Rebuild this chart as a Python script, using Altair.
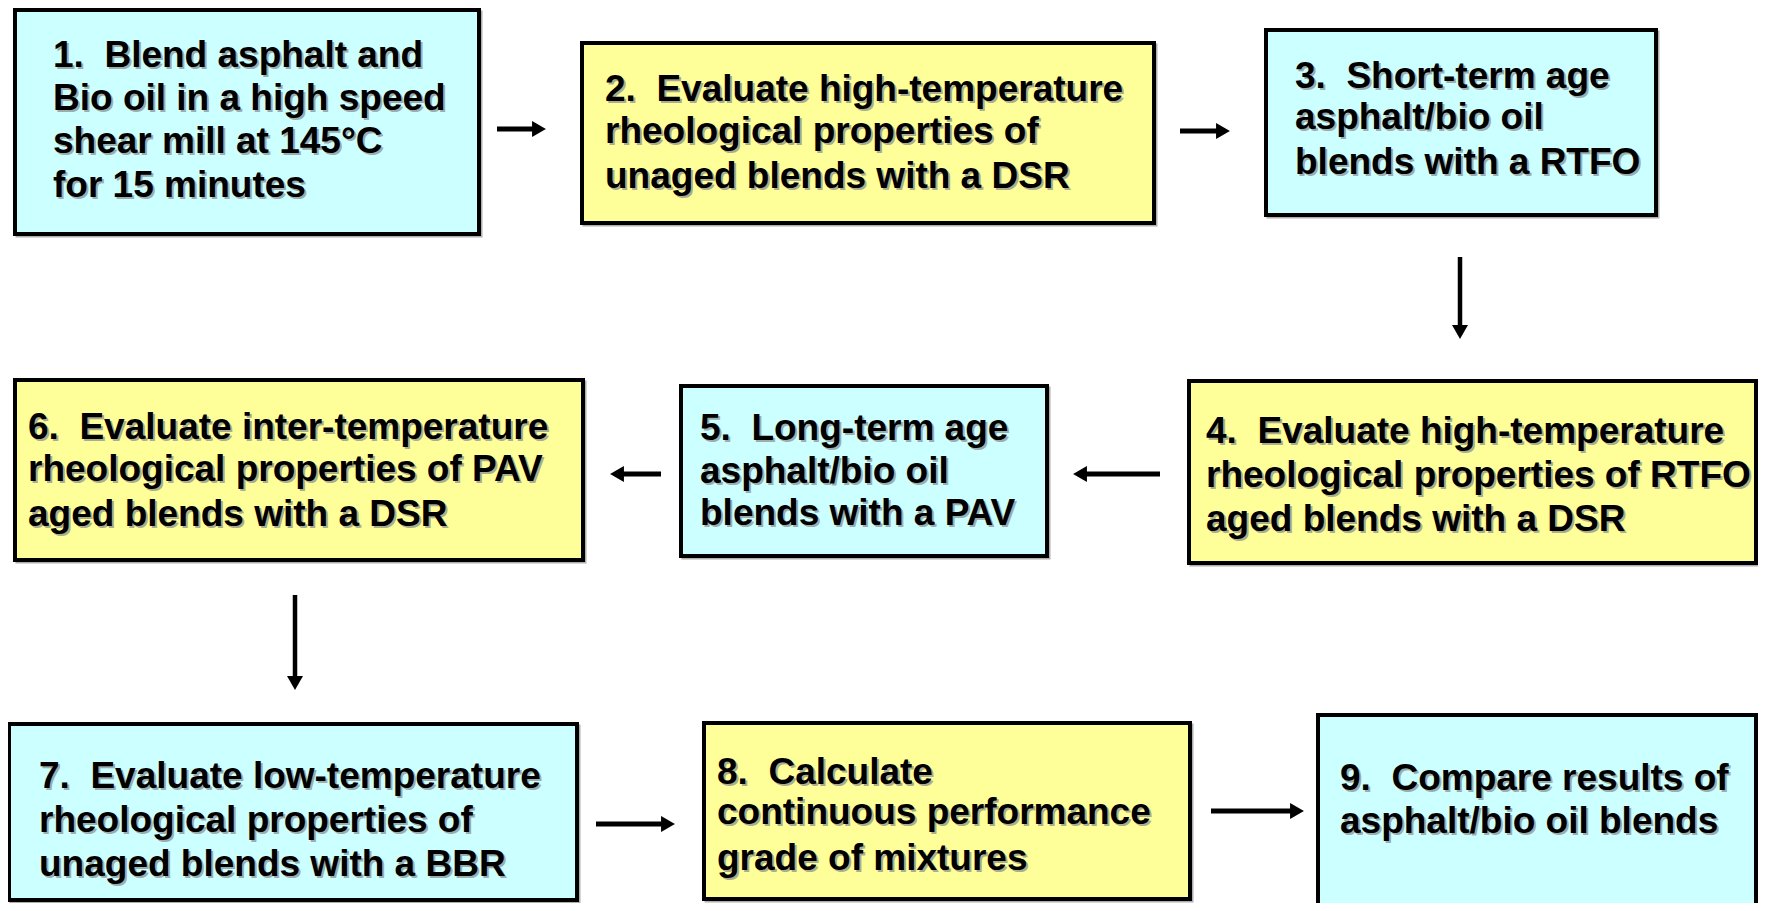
import altair as alt
import pandas as pd

# ---- data -------------------------------------------------------------
steps = [1, 2, 3, 4, 5, 6, 7, 8, 9]
box_left = [15, 582, 1266, 1189, 681, 15, 9, 704, 1318]
box_right = [479, 1154, 1656, 1756, 1047, 583, 577, 1190, 1756]
box_top = [10, 43, 30, 381, 386, 380, 724, 723, 715]
box_bottom = [234, 223, 215, 563, 556, 560, 900, 899, 960]
box_kind = ["cyan", "yellow", "cyan", "yellow", "cyan", "yellow", "cyan", "yellow", "cyan"]

NB = "\u00a0"
step_text = [
    ["1. " + NB + "Blend asphalt and", "Bio oil in a high speed", "shear mill at 145°C", "for 15 minutes"],
    ["2. " + NB + "Evaluate high-temperature", "rheological properties of", "unaged blends with a DSR"],
    ["3. " + NB + "Short-term age", "asphalt/bio oil", "blends with a RTFO"],
    ["4. " + NB + "Evaluate high-temperature", "rheological properties of RTFO", "aged blends with a DSR"],
    ["5. " + NB + "Long-term age", "asphalt/bio oil", "blends with a PAV"],
    ["6. " + NB + "Evaluate inter-temperature", "rheological properties of PAV", "aged blends with a DSR"],
    ["7. " + NB + "Evaluate low-temperature", "rheological properties of", "unaged blends with a BBR"],
    ["8. " + NB + "Calculate", "continuous performance", "grade of mixtures"],
    ["9. " + NB + "Compare results of", "asphalt/bio oil blends"],
]
text_left = [53, 605, 1295, 1206, 700, 28, 39, 717, 1340]
text_rows_y = [
    [56, 99, 142, 186],
    [90, 132, 177],
    [77, 118, 163],
    [432, 476, 520],
    [429, 472, 514],
    [428, 470, 515],
    [777, 821, 865],
    [773, 813, 859],
    [779, 822],
]

arrow_x_from = [497, 1180, 1460, 1160, 661, 295, 596, 1211]
arrow_x_to = [547, 1231, 1460, 1072, 609, 295, 676, 1305]
arrow_y_from = [129, 131, 257, 474, 474, 595, 824, 811]
arrow_y_to = [129, 131, 340, 474, 474, 691, 824, 811]

# ---- tables -----------------------------------------------------------
boxes = pd.DataFrame({
    "step": steps, "x0": box_left, "x1": box_right,
    "y0": box_top, "y1": box_bottom, "kind": box_kind,
})
boxes["sx0"] = boxes["x0"] + 2
boxes["sx1"] = boxes["x1"] + 2
boxes["sy0"] = boxes["y0"] + 2
boxes["sy1"] = boxes["y1"] + 2

rows = []
for s, lines, tx, ys in zip(steps, step_text, text_left, text_rows_y):
    for line, ty in zip(lines, ys):
        rows.append({"step": s, "text": line, "x": tx, "y": ty})
texts = pd.DataFrame(rows)

R = 8  # arrow head half-height
arr = []
for xf, xt, yf, yt in zip(arrow_x_from, arrow_x_to, arrow_y_from, arrow_y_to):
    dx = (xt > xf) - (xt < xf)
    dy = (yt > yf) - (yt < yf)
    angle = 0 if dx > 0 else (180 if dx < 0 else 90)
    arr.append({
        "xf": xf, "yf": yf,
        "xe": xt - dx * 11, "ye": yt - dy * 11,
        "hx": xt - dx * R, "hy": yt - dy * R,
        "angle": angle,
        "w": 5 if dx != 0 else 4.5,
    })
arrows = pd.DataFrame(arr)

W, H = 1750, 895
xs = alt.Scale(domain=[8, 8 + W], nice=False, zero=False)
ys = alt.Scale(domain=[8, 8 + H], nice=False, zero=False, reverse=True)
noax = None

base_box = alt.Chart(boxes)

shadow = base_box.mark_rect(fill=None, stroke="#8c8c8c", strokeWidth=3, opacity=0.7, clip=True).encode(
    x=alt.X("sx0:Q", scale=xs, axis=noax), x2="sx1:Q",
    y=alt.Y("sy0:Q", scale=ys, axis=noax), y2="sy1:Q",
)

rects = base_box.mark_rect(stroke="black", strokeWidth=4, clip=True).encode(
    x=alt.X("x0:Q", scale=xs, axis=noax), x2="x1:Q",
    y=alt.Y("y0:Q", scale=ys, axis=noax), y2="y1:Q",
    fill=alt.Fill("kind:N", scale=alt.Scale(domain=["cyan", "yellow"], range=["#CCFFFF", "#FFFF99"]), legend=None),
)

FONT = "Liberation Sans"
FS = 37
text_shadow = alt.Chart(texts).mark_text(
    align="left", baseline="middle", font=FONT, fontWeight="bold", fontSize=FS,
    color="#8a8a8a", opacity=0.7, dx=2, dy=2,
).encode(x=alt.X("x:Q", scale=xs, axis=noax), y=alt.Y("y:Q", scale=ys, axis=noax), text="text:N")

text_main = alt.Chart(texts).mark_text(
    align="left", baseline="middle", font=FONT, fontWeight="bold", fontSize=FS, color="black",
).encode(x=alt.X("x:Q", scale=xs, axis=noax), y=alt.Y("y:Q", scale=ys, axis=noax), text="text:N")

shafts = alt.Chart(arrows).mark_rule(color="black").encode(
    x=alt.X("xf:Q", scale=xs, axis=noax), x2="xe:Q",
    y=alt.Y("yf:Q", scale=ys, axis=noax), y2="ye:Q",
    strokeWidth=alt.StrokeWidth("w:Q", scale=None),
)

heads = alt.Chart(arrows).mark_point(shape="triangle-right", filled=True, color="black", opacity=1, size=(2 * R) ** 2).encode(
    x=alt.X("hx:Q", scale=xs, axis=noax), y=alt.Y("hy:Q", scale=ys, axis=noax),
    angle=alt.Angle("angle:Q", scale=None),
)

chart = alt.layer(shadow, rects, shafts, heads, text_shadow, text_main).properties(
    width=W, height=H, padding=0, background="white",
    autosize=alt.AutoSizeParams(type="fit", contains="padding"),
).configure_view(stroke=None)

chart.save("out.html", embed_options={"renderer": "svg", "actions": False})
